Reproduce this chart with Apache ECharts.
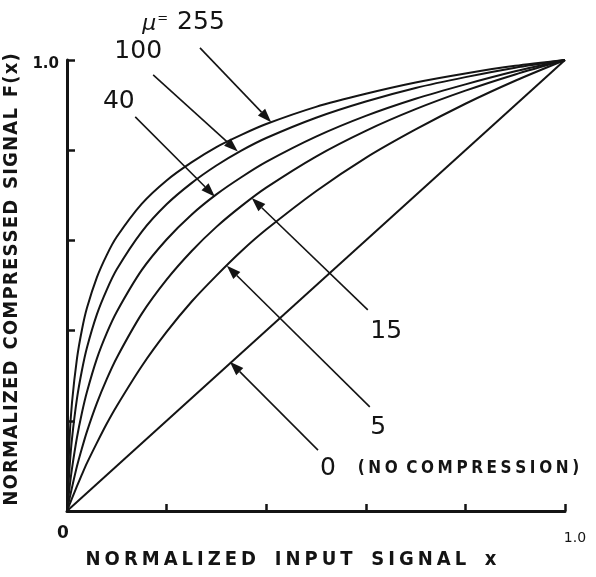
<!DOCTYPE html>
<html>
<head>
<meta charset="utf-8">
<script src="https://cdn.jsdelivr.net/npm/echarts@6/dist/echarts.min.js"></script>
<style>
  html, body { margin: 0; padding: 0; background: #ffffff; }
  #chart { width: 596px; height: 577px; }
</style>
</head>
<body>
<div id="chart"></div>
<script>
// μ-law compressor characteristics: compressed output F(x) against normalized input x
const inputX = [0, 0.005, 0.01, 0.02, 0.03, 0.04, 0.06, 0.08, 0.1, 0.15, 0.2, 0.25, 0.3, 0.35, 0.4, 0.5, 0.6, 0.7, 0.8, 0.9, 1.0];
const mu255 = [0, 0.158, 0.240, 0.338, 0.402, 0.450, 0.518, 0.568, 0.608, 0.681, 0.733, 0.773, 0.807, 0.834, 0.858, 0.896, 0.925, 0.950, 0.970, 0.987, 1.0];
const mu100 = [0, 0.094, 0.160, 0.249, 0.312, 0.362, 0.436, 0.491, 0.536, 0.619, 0.680, 0.727, 0.766, 0.799, 0.827, 0.872, 0.908, 0.938, 0.962, 0.983, 1.0];
const mu40  = [0, 0.051, 0.094, 0.163, 0.218, 0.264, 0.338, 0.395, 0.442, 0.534, 0.602, 0.657, 0.702, 0.740, 0.774, 0.830, 0.876, 0.914, 0.946, 0.975, 1.0];
const mu15  = [0, 0.027, 0.052, 0.099, 0.139, 0.176, 0.239, 0.293, 0.340, 0.437, 0.513, 0.576, 0.630, 0.676, 0.717, 0.786, 0.843, 0.891, 0.932, 0.968, 1.0];
const mu5   = [0, 0.014, 0.028, 0.055, 0.081, 0.106, 0.151, 0.194, 0.233, 0.321, 0.397, 0.464, 0.522, 0.576, 0.624, 0.709, 0.783, 0.846, 0.903, 0.954, 1.0];
// μ = 0: straight line, no compression
const linearX = [0, 1.0];
const mu0     = [0, 1.0];

const curves = [
  { name: 'μ = 255', xs: inputX, ys: mu255 },
  { name: '100', xs: inputX, ys: mu100 },
  { name: '40', xs: inputX, ys: mu40 },
  { name: '15', xs: inputX, ys: mu15 },
  { name: '5', xs: inputX, ys: mu5 },
  { name: '0', xs: linearX, ys: mu0 }
];

const xTitle = 'NORMALIZED INPUT SIGNAL x';
const yTitle = 'NORMALIZED COMPRESSED SIGNAL F(x)';
const noCompression = '(NO COMPRESSION)';

const INK = '#141414';
const TITLE_FONT = "'DejaVu Sans Condensed', 'Liberation Sans', sans-serif";
const NUM_FONT = "'DejaVu Sans', sans-serif";

// wrap every character in its own rich token so the lettering gets extra tracking
function tracked(str, key) {
  return str.split('').map(ch => ch === ' ' ? '{' + key + 'Sp| }' : '{' + key + '|' + ch + '}').join('');
}

const chart = echarts.init(document.getElementById('chart'), null, { renderer: 'canvas' });

const series = curves.map(c => ({
  name: c.name,
  type: 'line',
  data: c.xs.map((x, i) => [x, c.ys[i]]),
  showSymbol: false,
  smooth: 0.25,
  clip: false,
  lineStyle: { color: INK, width: 2 },
  emphasis: { disabled: true },
  silent: true
}));

chart.setOption({
  backgroundColor: '#ffffff',
  animation: false,
  grid: { left: 67, right: 31, top: 60, bottom: 66, containLabel: false, outerBoundsMode: 'none' },
  xAxis: {
    type: 'value', min: 0, max: 1, interval: 0.2,
    axisLine: { show: true, lineStyle: { color: INK, width: 3 } },
    axisTick: { show: true, inside: true, length: 7, lineStyle: { color: INK, width: 2.5 } },
    splitLine: { show: false },
    axisLabel: {
      show: true, margin: 12, showMinLabel: true, showMaxLabel: true,
      formatter: v => (v === 0 ? '{l|0}{s| }' : (Math.abs(v - 1) < 1e-9 ? '{r|1.0}' : '')),
      rich: {
        l: { fontFamily: NUM_FONT, fontSize: 17, fontWeight: 'bold', color: INK, padding: [2, 0, 0, 0] },
        s: { fontFamily: NUM_FONT, fontSize: 10, color: INK, width: 8 },
        r: { fontFamily: NUM_FONT, fontSize: 14, color: INK, padding: [8, 0, 0, 20] }
      }
    },
    name: tracked(xTitle, 'c'),
    nameLocation: 'middle',
    nameGap: 37,
    nameTextStyle: {
      padding: [0, 50, 0, 0],
      rich: {
        c: { fontFamily: TITLE_FONT, fontSize: 20, fontWeight: 'bold', color: INK, padding: [0, 2, 0, 2] },
        cSp: { fontFamily: TITLE_FONT, fontSize: 20, color: INK, padding: [0, 4.5, 0, 4.5] }
      }
    }
  },
  yAxis: {
    type: 'value', min: 0, max: 1, interval: 0.2,
    axisLine: { show: true, lineStyle: { color: INK, width: 3 } },
    axisTick: { show: true, inside: true, length: 8, lineStyle: { color: INK, width: 2.5 } },
    splitLine: { show: false },
    axisLabel: {
      show: true, margin: 8, showMaxLabel: true,
      formatter: v => (Math.abs(v - 1) < 1e-9 ? '{t|1.0}' : ''),
      rich: {
        t: { fontFamily: NUM_FONT, fontSize: 15, fontWeight: 'bold', color: INK, padding: [8, 0, 0, 0] }
      }
    },
    name: tracked(yTitle, 'c'),
    nameLocation: 'middle',
    nameRotate: 90,
    nameGap: 23,
    nameTextStyle: {
      padding: [0, 0, 0, 12],
      rich: {
        c: { fontFamily: TITLE_FONT, fontSize: 20, fontWeight: 'bold', color: INK, padding: [0, 0.6, 0, 0.6] },
        cSp: { fontFamily: TITLE_FONT, fontSize: 20, color: INK, padding: [0, 2, 0, 2] }
      }
    }
  },
  series: series
});

// Pointer arrows and curve labels, placed in data space and mapped through the axes
const notes = [
  { tail: [0.267, 1.027], tip: [0.41, 0.862],  at: [0.234, 1.084], align: 'center',
    text: '{m|μ}{e|=}{n| 255}' },
  { tail: [0.173, 0.967], tip: [0.343, 0.797], at: [0.143, 1.018], align: 'center', text: '{n|100}' },
  { tail: [0.137, 0.874], tip: [0.297, 0.697], at: [0.104, 0.909], align: 'center', text: '{n|40}' },
  { tail: [0.604, 0.446], tip: [0.371, 0.694], at: [0.641, 0.397], align: 'center', text: '{n|15}' },
  { tail: [0.608, 0.231], tip: [0.321, 0.544], at: [0.625, 0.186], align: 'center', text: '{n|5}' },
  { tail: [0.504, 0.135], tip: [0.327, 0.331], at: [0.508, 0.095], align: 'left',
    text: '{n|0}{g| }' + tracked(noCompression, 'b') }
];

const noteRich = {
  m: { fontFamily: NUM_FONT, fontSize: 22, fontStyle: 'italic', fill: INK, padding: [4, 0, 0, 0] },
  e: { fontFamily: NUM_FONT, fontSize: 13, fill: INK, padding: [0, 1, 6, 1] },
  n: { fontFamily: NUM_FONT, fontSize: 25, fill: INK },
  g: { fontFamily: NUM_FONT, fontSize: 12, fill: INK, width: 20 },
  b: { fontFamily: TITLE_FONT, fontSize: 17, fontWeight: 'bold', fill: INK, padding: [0, 1.8, 0, 1.8] },
  bSp: { fontFamily: TITLE_FONT, fontSize: 17, fill: INK, padding: [0, 0, 0, 0] }
};

const graphics = [];
const HEAD_LEN = 14, HEAD_HALF = 5;
notes.forEach(n => {
  const p0 = chart.convertToPixel({ gridIndex: 0 }, n.tail);
  const p1 = chart.convertToPixel({ gridIndex: 0 }, n.tip);
  const dx = p1[0] - p0[0], dy = p1[1] - p0[1];
  const len = Math.sqrt(dx * dx + dy * dy);
  const ux = dx / len, uy = dy / len;
  const bx = p1[0] - ux * HEAD_LEN, by = p1[1] - uy * HEAD_LEN;
  graphics.push({
    type: 'line', silent: true,
    shape: { x1: p0[0], y1: p0[1], x2: bx, y2: by },
    style: { stroke: INK, lineWidth: 1.6 }
  });
  graphics.push({
    type: 'polygon', silent: true,
    shape: { points: [[p1[0], p1[1]], [bx - uy * HEAD_HALF, by + ux * HEAD_HALF], [bx + uy * HEAD_HALF, by - ux * HEAD_HALF]] },
    style: { fill: INK }
  });
  const t = chart.convertToPixel({ gridIndex: 0 }, n.at);
  graphics.push({
    type: 'text', silent: true, x: t[0], y: t[1],
    style: { text: n.text, rich: noteRich, align: n.align, verticalAlign: 'middle', fill: INK }
  });
});

chart.setOption({ graphic: graphics });
</script>
</body>
</html>
